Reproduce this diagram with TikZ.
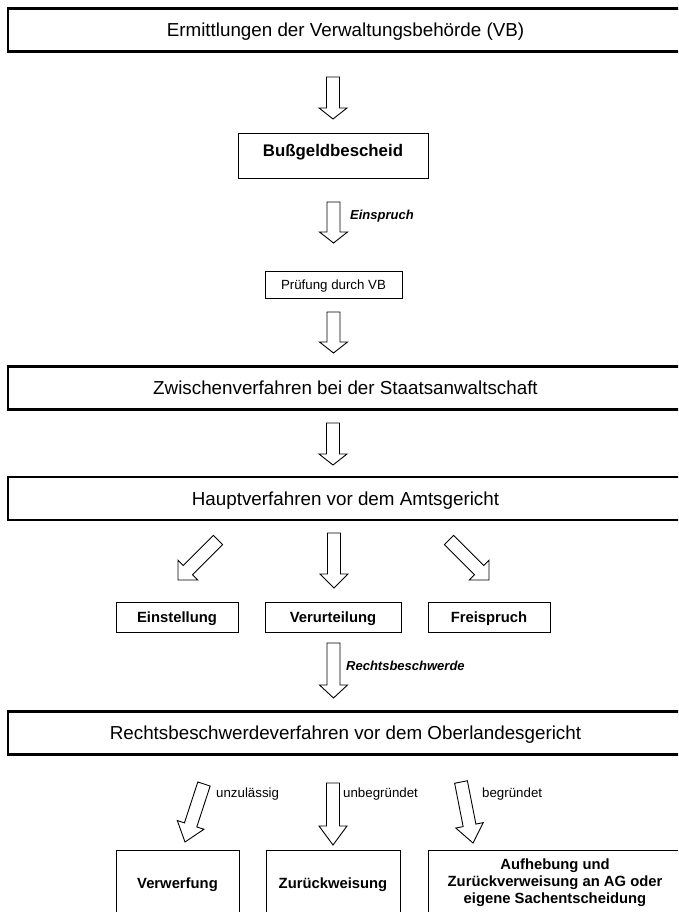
\documentclass[tikz,border=0pt]{standalone}
\usepackage{fontspec}
\setmainfont{Liberation Sans}
\usetikzlibrary{calc}
\tikzset{
  bigbox/.style={draw, line width=2.4pt, minimum width=675pt, minimum height=43pt, inner sep=0pt,
    text height=13.5pt, text depth=0pt, font=\fontsize{18.8}{22}\selectfont},
  boldbox/.style={draw, line width=0.9pt, inner sep=0pt, align=center,
    font=\fontsize{14.8}{17}\selectfont\bfseries},
  oneline/.style={text height=10.6pt, text depth=0pt},
  plainbox/.style={draw, line width=0.9pt, inner sep=0pt, text height=9.5pt, text depth=0pt,
    font=\fontsize{13.3}{16}\selectfont},
  blockarr/.style={draw, line width=0.9pt, fill=white, line join=miter},
  arrlabel/.style={anchor=west, inner sep=0pt, font=\fontsize{13}{15}\selectfont\bfseries\itshape},
  smalllabel/.style={anchor=west, inner sep=0pt, font=\fontsize{13.3}{15}\selectfont},
}
% #1 = head length, #2 = tail coordinate, #3 = tip coordinate
\newcommand\blockarrow[3][12pt]{%
  \coordinate (hb) at ($(#3)!#1!(#2)$);
  \draw[blockarr] ($(#2)!6.5pt!90:(#3)$) -- ($(hb)!6.5pt!90:(#3)$) -- ($(hb)!14pt!90:(#3)$)
    -- (#3) -- ($(hb)!14pt!-90:(#3)$) -- ($(hb)!6.5pt!-90:(#3)$) -- ($(#2)!6.5pt!-90:(#3)$) -- cycle;}
\begin{document}
\begin{tikzpicture}[x=1pt,y=1pt]
\useasboundingbox (0,0) rectangle (678,-912);
\clip (0,0) rectangle (678,-912);
\fill[white] (0,0) rectangle (678,-912);

% big boxes
\node[bigbox] (vb) at (345.5,-30) {Ermittlungen der Verwaltungsbehörde (VB)};
\node[bigbox] (sta) at (345.5,-388) {Zwischenverfahren bei der Staatsanwaltschaft};
\node[bigbox] (ag) at (345.5,-498.5) {Hauptverfahren vor dem Amtsgericht};
\node[bigbox] (olg) at (345.5,-733) {Rechtsbeschwerdeverfahren vor dem Oberlandesgericht};

% small boxes
\node[boldbox, font=\fontsize{16.8}{19}\selectfont\bfseries, minimum width=190pt,
  text height=23pt, text depth=22pt, anchor=north] (bg) at (333,-133) {Bußgeldbescheid};
\node[plainbox, minimum width=137pt, minimum height=27pt] (pr) at (333.5,-284.5) {Prüfung durch VB};

\node[boldbox, oneline, minimum width=122pt, minimum height=30pt] (ein) at (177,-617) {Einstellung};
\node[boldbox, oneline, minimum width=136pt, minimum height=30pt] (ver) at (333,-617) {Verurteilung};
\node[boldbox, oneline, minimum width=122pt, minimum height=30pt] (fre) at (489,-617) {Freispruch};

\node[boldbox, oneline, minimum width=123pt, minimum height=66pt] (vw) at (177.5,-883) {Verwerfung};
\node[boldbox, oneline, minimum width=134pt, minimum height=66pt] (zw) at (333,-883) {Zurückweisung};
\node[boldbox, minimum width=254pt, minimum height=66pt] (auf) at (555,-883)
  {Aufhebung und\\Zurückverweisung an AG oder\\eigene Sachentscheidung};

% arrow end points
\coordinate (a1s) at (333,-77);    \coordinate (a1e) at (333,-119);
\coordinate (a2s) at (333.5,-202); \coordinate (a2e) at (333.5,-243);
\coordinate (a3s) at (333.5,-312); \coordinate (a3e) at (333.5,-353);
\coordinate (a4s) at (333,-423);   \coordinate (a4e) at (333,-465);
\coordinate (l1s) at (218,-540);   \coordinate (l1e) at (178,-580);
\coordinate (c1s) at (334,-533);   \coordinate (c1e) at (334,-588);
\coordinate (r1s) at (449,-540);   \coordinate (r1e) at (489,-580);
\coordinate (rbs) at (333.5,-643); \coordinate (rbe) at (333.5,-698);
\coordinate (l2s) at (204,-784);   \coordinate (l2e) at (185,-842);
\coordinate (c2s) at (333,-783);   \coordinate (c2e) at (333,-845);
\coordinate (r2s) at (461,-782);   \coordinate (r2e) at (473,-843);

\blockarrow[11pt]{a1s}{a1e}
\blockarrow[11pt]{a2s}{a2e}
\blockarrow[11pt]{a3s}{a3e}
\blockarrow[11pt]{a4s}{a4e}
\blockarrow[14pt]{l1s}{l1e}
\blockarrow[14pt]{c1s}{c1e}
\blockarrow[14pt]{r1s}{r1e}
\blockarrow[13pt]{rbs}{rbe}
\blockarrow[18pt]{l2s}{l2e}
\blockarrow[19pt]{c2s}{c2e}
\blockarrow[18pt]{r2s}{r2e}

% labels
\node[arrlabel] (lein) at (350,-216) {Einspruch};
\node[arrlabel] (lrb) at (346,-666) {Rechtsbeschwerde};
\node[smalllabel] (lunz) at (216,-794) {unzulässig};
\node[smalllabel] (lunb) at (343,-794) {unbegründet};
\node[smalllabel] (lbeg) at (482,-794) {begründet};
\end{tikzpicture}
\end{document}
